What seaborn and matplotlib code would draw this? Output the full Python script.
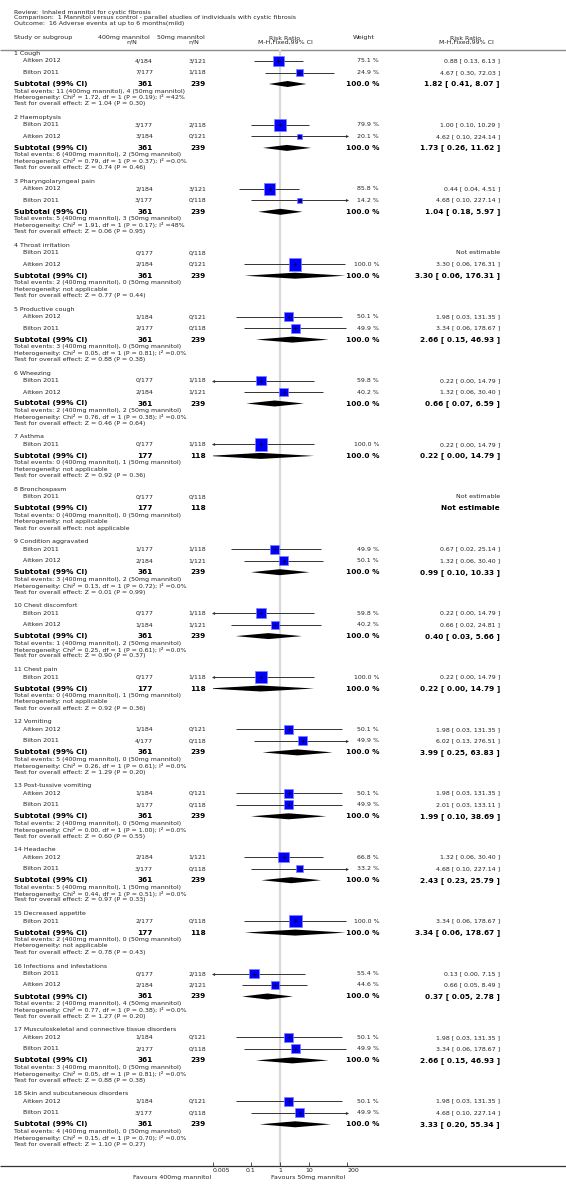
import matplotlib
matplotlib.use("Agg")
import matplotlib.pyplot as plt
import numpy as np
import pandas as pd
import seaborn as sns

sns.set_style("white")
plt.rcParams['font.family'] = ['DejaVu Sans']

# ---------------- data ----------------
review_title = "Review:  Inhaled mannitol for cystic fibrosis"
comparison_title = "Comparison:  1 Mannitol versus control - parallel studies of individuals with cystic fibrosis"
outcome_title = "Outcome:  16 Adverse events at up to 6 months(mild)"

groups = ["1 Cough", "2 Haemoptysis", "3 Pharyngolaryngeal pain", "4 Throat irritation",
          "5 Productive cough", "6 Wheezing", "7 Asthma", "8 Bronchospasm",
          "9 Condition aggravated", "10 Chest discomfort", "11 Chest pain", "12 Vomiting",
          "13 Post-tussive vomiting", "14 Headache", "15 Decreased appetite",
          "16 Infections and infestations",
          "17 Musculoskeletal and connective tissue disorders",
          "18 Skin and subcutaneous disorders"]

study_group = [0, 0, 1, 1, 2, 2, 3, 3, 4, 4, 5, 5, 6, 7, 8, 8, 9, 9, 10, 11, 11,
               12, 12, 13, 13, 14, 15, 15, 16, 16, 17, 17]
study_names = ["Aitken 2012", "Bilton 2011", "Bilton 2011", "Aitken 2012",
               "Aitken 2012", "Bilton 2011", "Bilton 2011", "Aitken 2012",
               "Aitken 2012", "Bilton 2011", "Bilton 2011", "Aitken 2012",
               "Bilton 2011", "Bilton 2011", "Bilton 2011", "Aitken 2012",
               "Bilton 2011", "Aitken 2012", "Bilton 2011", "Aitken 2012", "Bilton 2011",
               "Aitken 2012", "Bilton 2011", "Aitken 2012", "Bilton 2011",
               "Bilton 2011", "Bilton 2011", "Aitken 2012", "Aitken 2012", "Bilton 2011",
               "Aitken 2012", "Bilton 2011"]
events_400 = ["4/184", "7/177", "3/177", "3/184", "2/184", "3/177", "0/177", "2/184",
              "1/184", "2/177", "0/177", "2/184", "0/177", "0/177", "1/177", "2/184",
              "0/177", "1/184", "0/177", "1/184", "4/177", "1/184", "1/177", "2/184",
              "3/177", "2/177", "0/177", "2/184", "1/184", "2/177", "1/184", "3/177"]
events_50 = ["3/121", "1/118", "2/118", "0/121", "3/121", "0/118", "0/118", "0/121",
             "0/121", "0/118", "1/118", "1/121", "1/118", "0/118", "1/118", "1/121",
             "1/118", "1/121", "1/118", "0/121", "0/118", "0/121", "0/118", "1/121",
             "0/118", "0/118", "2/118", "2/121", "0/121", "0/118", "0/121", "0/118"]
weights = [75.1, 24.9, 79.9, 20.1, 85.8, 14.2, np.nan, 100.0, 50.1, 49.9, 59.8, 40.2,
           100.0, np.nan, 49.9, 50.1, 59.8, 40.2, 100.0, 50.1, 49.9, 50.1, 49.9, 66.8,
           33.2, 100.0, 55.4, 44.6, 50.1, 49.9, 50.1, 49.9]
rr = [0.88, 4.67, 1.00, 4.62, 0.44, 4.68, np.nan, 3.30, 1.98, 3.34, 0.22, 1.32,
      0.22, np.nan, 0.67, 1.32, 0.22, 0.66, 0.22, 1.98, 6.02, 1.98, 2.01, 1.32,
      4.68, 3.34, 0.13, 0.66, 1.98, 3.34, 1.98, 4.68]
rr_lo = [0.13, 0.30, 0.10, 0.10, 0.04, 0.10, np.nan, 0.06, 0.03, 0.06, 0.00, 0.06,
         0.00, np.nan, 0.02, 0.06, 0.00, 0.02, 0.00, 0.03, 0.13, 0.03, 0.03, 0.06,
         0.10, 0.06, 0.00, 0.05, 0.03, 0.06, 0.03, 0.10]
rr_hi = [6.13, 72.03, 10.29, 224.14, 4.51, 227.14, np.nan, 176.31, 131.35, 178.67,
         14.79, 30.40, 14.79, np.nan, 25.14, 30.40, 14.79, 24.81, 14.79, 131.35,
         276.51, 131.35, 133.11, 30.40, 227.14, 178.67, 7.15, 8.49, 131.35, 178.67,
         131.35, 227.14]

sub_n400 = [361, 361, 361, 361, 361, 361, 177, 177, 361, 361, 177, 361, 361, 361, 177, 361, 361, 361]
sub_n50 = [239, 239, 239, 239, 239, 239, 118, 118, 239, 239, 118, 239, 239, 239, 118, 239, 239, 239]
sub_weight = [100.0] * 7 + [np.nan] + [100.0] * 10
sub_rr = [1.82, 1.73, 1.04, 3.30, 2.66, 0.66, 0.22, np.nan, 0.99, 0.40, 0.22, 3.99,
          1.99, 2.43, 3.34, 0.37, 2.66, 3.33]
sub_lo = [0.41, 0.26, 0.18, 0.06, 0.15, 0.07, 0.00, np.nan, 0.10, 0.03, 0.00, 0.25,
          0.10, 0.23, 0.06, 0.05, 0.15, 0.20]
sub_hi = [8.07, 11.62, 5.97, 176.31, 46.93, 6.59, 14.79, np.nan, 10.33, 5.66, 14.79,
          63.83, 38.69, 25.79, 178.67, 2.78, 46.93, 55.34]
total_400 = [11, 6, 5, 2, 3, 2, 0, 0, 3, 1, 0, 5, 2, 5, 2, 2, 3, 4]
total_50 = [4, 2, 3, 0, 0, 2, 1, 0, 2, 2, 1, 0, 0, 1, 0, 4, 0, 0]
heterogeneity = ["Chi² = 1.72, df = 1 (P = 0.19); I² =42%",
                 "Chi² = 0.79, df = 1 (P = 0.37); I² =0.0%",
                 "Chi² = 1.91, df = 1 (P = 0.17); I² =48%",
                 "not applicable",
                 "Chi² = 0.05, df = 1 (P = 0.81); I² =0.0%",
                 "Chi² = 0.76, df = 1 (P = 0.38); I² =0.0%",
                 "not applicable",
                 "not applicable",
                 "Chi² = 0.13, df = 1 (P = 0.72); I² =0.0%",
                 "Chi² = 0.25, df = 1 (P = 0.61); I² =0.0%",
                 "not applicable",
                 "Chi² = 0.26, df = 1 (P = 0.61); I² =0.0%",
                 "Chi² = 0.00, df = 1 (P = 1.00); I² =0.0%",
                 "Chi² = 0.44, df = 1 (P = 0.51); I² =0.0%",
                 "not applicable",
                 "Chi² = 0.77, df = 1 (P = 0.38); I² =0.0%",
                 "Chi² = 0.05, df = 1 (P = 0.81); I² =0.0%",
                 "Chi² = 0.15, df = 1 (P = 0.70); I² =0.0%"]
overall_effect = ["Z = 1.04 (P = 0.30)", "Z = 0.74 (P = 0.46)", "Z = 0.06 (P = 0.95)",
                  "Z = 0.77 (P = 0.44)", "Z = 0.88 (P = 0.38)", "Z = 0.46 (P = 0.64)",
                  "Z = 0.92 (P = 0.36)", "not applicable", "Z = 0.01 (P = 0.99)",
                  "Z = 0.90 (P = 0.37)", "Z = 0.92 (P = 0.36)", "Z = 1.29 (P = 0.20)",
                  "Z = 0.60 (P = 0.55)", "Z = 0.97 (P = 0.33)", "Z = 0.78 (P = 0.43)",
                  "Z = 1.27 (P = 0.20)", "Z = 0.88 (P = 0.38)", "Z = 1.10 (P = 0.27)"]

x_ticks = [0.005, 0.1, 1, 10, 200]
x_tick_labels = ["0.005", "0.1", "1", "10", "200"]
favours_left = "Favours 400mg mannitol"
favours_right = "Favours 50mg mannitol"

# ---------------- layout (pixels) ----------------
W, H = 566, 1196
AX_L, AX_R = 213, 347
AX_TOP, AX_BOT = 50, 1166
TOP_Y, H1, ROW, A, LINE, GAP = 53.5, 7.5, 11.5, 7.0, 6.4, 13.6
X_TXT, X_STUDY, X_C1, X_C2, X_W, X_RR = 13.5, 23, 153, 206, 379, 500
FS, FSB = 4.5, 5.3
TXT = '#222222'

fig = plt.figure(figsize=(W / 100, H / 100), dpi=100)
bg = fig.add_axes([0, 0, 1, 1])
bg.set_xlim(0, W)
bg.set_ylim(H, 0)
bg.axis('off')

fax = fig.add_axes([AX_L / W, (H - AX_BOT) / H, (AX_R - AX_L) / W, (AX_BOT - AX_TOP) / H])
fax.patch.set_alpha(0)
fax.set_xscale('log')
fax.set_xlim(x_ticks[0], x_ticks[-1])
fax.set_ylim(AX_BOT, AX_TOP)

# header
bg.text(X_TXT, 12.7, review_title, fontsize=FS, color=TXT, va='center')
bg.text(X_TXT, 17.9, comparison_title, fontsize=FS, color=TXT, va='center')
bg.text(X_TXT, 24.0, outcome_title, fontsize=FS, color=TXT, va='center')
bg.text(X_TXT, 38, "Study or subgroup", fontsize=FS, color=TXT, va='center')
bg.text(124, 38, "400mg mannitol", fontsize=FS, color=TXT, va='center', ha='center')
bg.text(132, 42.5, "n/N", fontsize=FS, color=TXT, va='center', ha='center')
bg.text(181, 38, "50mg mannitol", fontsize=FS, color=TXT, va='center', ha='center')
bg.text(194, 42.5, "n/N", fontsize=FS, color=TXT, va='center', ha='center')
bg.text(285, 38, "Risk Ratio", fontsize=FS, color=TXT, va='center', ha='center')
bg.text(285, 42.5, "M-H,Fixed,99% CI", fontsize=FS, color=TXT, va='center', ha='center')
bg.text(364, 38, "Weight", fontsize=FS, color=TXT, va='center', ha='center')
bg.text(466, 38, "Risk Ratio", fontsize=FS, color=TXT, va='center', ha='center')
bg.text(466, 42.5, "M-H,Fixed,99% CI", fontsize=FS, color=TXT, va='center', ha='center')
bg.hlines(AX_TOP, 0, W, color='#8c8c8c', lw=1.0)
bg.hlines(AX_BOT, 0, W, color='#333333', lw=0.9)

fax.axvline(1, color='#d9d9d9', lw=1.6, zorder=0)


def fmt_rr(r, lo, hi):
    if np.isnan(r):
        return "Not estimable"
    return f"{r:.2f} [ {lo:.2f}, {hi:.2f} ]"


study_y = np.zeros(len(study_names))
sub_y = []
y = TOP_Y
for g, name in enumerate(groups):
    idx = [i for i, s in enumerate(study_group) if s == g]
    bg.text(X_TXT, y, name, fontsize=FS, color=TXT, va='center')
    yy = y + H1
    for k, i in enumerate(idx):
        study_y[i] = yy + k * ROW
    ys = yy + len(idx) * ROW
    sub_y.append(ys)
    bg.text(X_TXT, ys, "Subtotal (99% CI)", fontsize=FSB, weight='bold', color='black', va='center')
    bg.text(X_C1, ys, str(sub_n400[g]), fontsize=FSB, weight='bold', color='black', va='center', ha='right')
    bg.text(X_C2, ys, str(sub_n50[g]), fontsize=FSB, weight='bold', color='black', va='center', ha='right')
    if not np.isnan(sub_weight[g]):
        bg.text(X_W, ys, f"{sub_weight[g]:.1f} %", fontsize=FSB, weight='bold', color='black',
                va='center', ha='right')
    bg.text(X_RR, ys, fmt_rr(sub_rr[g], sub_lo[g], sub_hi[g]), fontsize=FSB, weight='bold',
            color='black', va='center', ha='right')
    t1 = ys + A
    bg.text(X_TXT, t1, f"Total events: {total_400[g]} (400mg mannitol), {total_50[g]} (50mg mannitol)",
            fontsize=FS, color=TXT, va='center')
    bg.text(X_TXT, t1 + LINE, "Heterogeneity: " + heterogeneity[g], fontsize=FS, color=TXT, va='center')
    bg.text(X_TXT, t1 + 2 * LINE, "Test for overall effect: " + overall_effect[g], fontsize=FS,
            color=TXT, va='center')
    y = t1 + 2 * LINE + GAP

# study rows text
for i, name in enumerate(study_names):
    yi = study_y[i]
    bg.text(X_STUDY, yi, name, fontsize=FS, color=TXT, va='center')
    bg.text(X_C1, yi, events_400[i], fontsize=FS, color=TXT, va='center', ha='right')
    bg.text(X_C2, yi, events_50[i], fontsize=FS, color=TXT, va='center', ha='right')
    if not np.isnan(weights[i]):
        bg.text(X_W, yi, f"{weights[i]:.1f} %", fontsize=FS, color=TXT, va='center', ha='right')
    bg.text(X_RR, yi, fmt_rr(rr[i], rr_lo[i], rr_hi[i]), fontsize=FS, color=TXT, va='center', ha='right')

# study marks
df = pd.DataFrame({"rr": rr, "lo": rr_lo, "hi": rr_hi, "weight": weights, "y": study_y})
df = df.dropna().reset_index(drop=True)
# a shown lower limit of 0.00 is recovered from log symmetry
df["lo_draw"] = np.where(df["lo"] > 0, df["lo"], df["rr"] ** 2 / df["hi"])
xmin, xmax = fax.get_xlim()
df["x0"] = df["lo_draw"].clip(lower=xmin)
df["x1"] = df["hi"].clip(upper=xmax)

fax.hlines(df["y"], df["x0"], df["x1"], color='#333333', lw=0.7, zorder=2)
left_arrows = df[df["lo_draw"] < xmin]
right_arrows = df[df["hi"] > xmax]
fax.scatter(left_arrows["x0"], left_arrows["y"], marker='<', s=5, color='#333333', lw=0, zorder=2, clip_on=False)
fax.scatter(right_arrows["x1"], right_arrows["y"], marker='>', s=5, color='#333333', lw=0, zorder=2, clip_on=False)

sns.scatterplot(data=df, x="rr", y="y", size="weight", sizes=(0, 83), size_norm=(0, 100),
                marker='s', color='#0000ff', edgecolor='#8080ff', linewidth=0.5,
                legend=False, ax=fax, zorder=3)
sns.scatterplot(data=df, x="rr", y="y", marker='+', s=7, color='black', linewidth=0.45,
                legend=False, ax=fax, zorder=4)

# subtotal diamonds
for g in range(len(groups)):
    r, lo, hi = sub_rr[g], sub_lo[g], sub_hi[g]
    if np.isnan(r):
        continue
    lo_d = lo if lo > 0 else r * r / hi
    ys = sub_y[g]
    fax.fill([lo_d, r, hi, r], [ys, ys - 3, ys, ys + 3], color='black', lw=0, zorder=3)

# axis
for s in fax.spines.values():
    s.set_visible(False)
fax.set_yticks([])
fax.set_xticks(x_ticks)
fax.set_xticklabels(x_tick_labels)
fax.minorticks_off()
fax.tick_params(axis='x', direction='in', length=3, width=0.6, color='#333333',
                labelsize=FS, labelcolor=TXT, pad=1.5, bottom=True)
tick_ha = ['left', 'center', 'center', 'center', 'left']
for lab, ha in zip(fax.get_xticklabels(), tick_ha):
    lab.set_horizontalalignment(ha)
fax.set_xlabel("")
fax.set_ylabel("")

bg.text(211, 1177.5, favours_left, fontsize=FS, color=TXT, va='center', ha='right')
bg.text(271, 1177.5, favours_right, fontsize=FS, color=TXT, va='center', ha='left')

plt.savefig("out.png", dpi=100)
